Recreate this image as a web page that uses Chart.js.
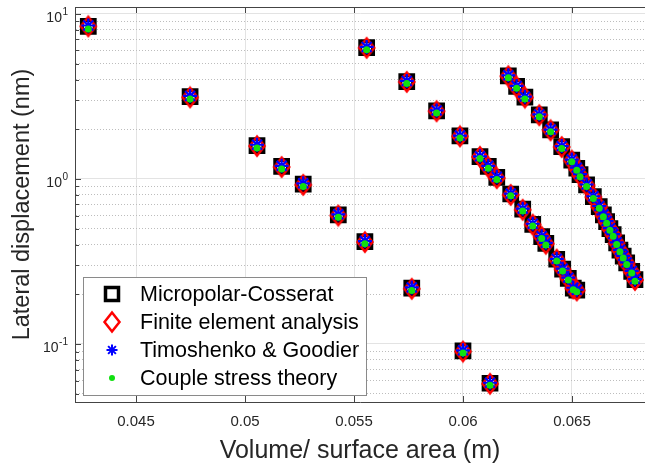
<!DOCTYPE html>
<html>
<head>
<meta charset="utf-8">
<script src="https://cdn.jsdelivr.net/npm/chart.js@4.4.0/dist/chart.umd.min.js"></script>
<style>
  html, body { margin: 0; padding: 0; background: #fff; }
  #wrap { width: 645px; height: 466px; }
</style>
</head>
<body>
<div id="wrap"><canvas id="chart" width="645" height="466"></canvas></div>
<script>
const FONT = "'Liberation Sans', Arial, sans-serif";

// volume / surface area (m)
const xValues = [
  0.04281, 0.04748, 0.05055, 0.05168, 0.05267, 0.05428, 0.05558, 0.05550,
  0.05742, 0.05765, 0.05879, 0.05986, 0.06000, 0.06078, 0.06116, 0.06124,
  0.06155, 0.06208, 0.06219, 0.06246, 0.06274, 0.06284, 0.06320, 0.06350,
  0.06361, 0.06380, 0.06402, 0.06430, 0.06453, 0.06457, 0.06483, 0.06499,
  0.06506, 0.06522, 0.06522, 0.06537, 0.06567, 0.06598, 0.06625, 0.06644,
  0.06659, 0.06674, 0.06689, 0.06705, 0.06720, 0.06735, 0.06751, 0.06774,
  0.06789,
];

// lateral displacement (nm)
const yMicropolar = [
  8.40, 3.15, 1.59, 1.19, 0.93, 0.605, 6.25, 0.417,
  3.89, 0.218, 2.58, 1.82, 0.0908, 1.365, 1.19, 0.0578,
  1.02, 4.21, 0.81, 3.63, 0.655, 3.13, 0.531, 2.44,
  0.447, 0.407, 1.98, 0.326, 1.57, 0.284, 0.250, 1.30,
  0.218, 1.16, 0.212, 1.06, 0.92, 0.78, 0.68, 0.605,
  0.551, 0.50, 0.46, 0.41, 0.37, 0.34, 0.31, 0.275,
  0.245,
];
const yFiniteElement = [
  8.40, 3.12, 1.58, 1.18, 0.92, 0.60, 6.22, 0.414,
  3.87, 0.216, 2.57, 1.81, 0.090, 1.36, 1.18, 0.0574,
  1.01, 4.19, 0.80, 3.61, 0.65, 3.11, 0.528, 2.43,
  0.445, 0.405, 1.97, 0.324, 1.56, 0.283, 0.249, 1.29,
  0.217, 1.15, 0.211, 1.05, 0.915, 0.775, 0.675, 0.60,
  0.548, 0.497, 0.457, 0.408, 0.368, 0.338, 0.308, 0.273,
  0.244,
];
const yTimoshenko = [
  8.50, 3.18, 1.61, 1.20, 0.94, 0.61, 6.30, 0.42,
  3.92, 0.22, 2.60, 1.83, 0.0915, 1.37, 1.20, 0.0582,
  1.03, 4.24, 0.815, 3.66, 0.66, 3.15, 0.535, 2.46,
  0.45, 0.41, 1.99, 0.328, 1.58, 0.286, 0.252, 1.31,
  0.219, 1.17, 0.213, 1.07, 0.925, 0.785, 0.685, 0.61,
  0.555, 0.503, 0.463, 0.413, 0.372, 0.342, 0.312, 0.277,
  0.247,
];
const yCoupleStress = [
  8.10, 3.05, 1.54, 1.15, 0.90, 0.585, 6.05, 0.405,
  3.78, 0.211, 2.51, 1.77, 0.088, 1.33, 1.16, 0.0562,
  0.99, 4.10, 0.79, 3.54, 0.64, 3.05, 0.518, 2.38,
  0.436, 0.397, 1.93, 0.318, 1.53, 0.277, 0.244, 1.27,
  0.213, 1.13, 0.207, 1.03, 0.90, 0.76, 0.665, 0.59,
  0.538, 0.488, 0.45, 0.40, 0.362, 0.332, 0.303, 0.269,
  0.24,
];

const seriesNames = [
  'Micropolar-Cosserat',
  'Finite element analysis',
  'Timoshenko & Goodier',
  'Couple stress theory',
];

const xTickValues = [0.045, 0.05, 0.055, 0.06, 0.065];
const xTickLabels = ['0.045', '0.05', '0.055', '0.06', '0.065'];
const yDecades = [0.1, 1, 10];
const yDecadeExponents = ['-1', '0', '1'];
const yMinorValues = [
  0.05, 0.06, 0.07, 0.08, 0.09,
  0.2, 0.3, 0.4, 0.5, 0.6, 0.7, 0.8, 0.9,
  2, 3, 4, 5, 6, 7, 8, 9,
];

const toPoints = (ys) => xValues.map((x, i) => ({ x, y: ys[i] }));
const isDecade = (v) => yDecades.some((d) => Math.abs(v / d - 1) < 1e-9);

// tall red diamond (matlab 'd' marker looks stretched in the export)
function makeDiamond(w, h, lw, color) {
  const c = document.createElement('canvas');
  c.width = w + lw * 2;
  c.height = h + lw * 2;
  const g = c.getContext('2d');
  const cx = c.width / 2;
  const cy = c.height / 2;
  g.beginPath();
  g.moveTo(cx, cy - h / 2);
  g.lineTo(cx + w / 2, cy);
  g.lineTo(cx, cy + h / 2);
  g.lineTo(cx - w / 2, cy);
  g.closePath();
  g.lineWidth = lw;
  g.strokeStyle = color;
  g.stroke();
  return c;
}
const diamond = makeDiamond(15, 19, 2.5, '#ff0000');

const GREEN = '#10e010';

const frame = {
  id: 'frame',
  afterDraw(chart) {
    const { ctx, chartArea: a, scales } = chart;
    ctx.save();
    ctx.strokeStyle = '#444';
    ctx.lineWidth = 1;
    // top edge of the box
    ctx.beginPath();
    ctx.moveTo(a.left, a.top + 0.5);
    ctx.lineTo(a.right, a.top + 0.5);
    ctx.stroke();
    // inward ticks
    ctx.beginPath();
    xTickValues.forEach((v) => {
      const px = Math.round(scales.x.getPixelForValue(v)) + 0.5;
      ctx.moveTo(px, a.bottom);
      ctx.lineTo(px, a.bottom - 6);
      ctx.moveTo(px, a.top);
      ctx.lineTo(px, a.top + 6);
    });
    yDecades.concat(yMinorValues).forEach((v) => {
      const py = Math.round(scales.y.getPixelForValue(v)) + 0.5;
      ctx.moveTo(a.left, py);
      ctx.lineTo(a.left + (isDecade(v) ? 6 : 4), py);
    });
    ctx.stroke();

    // 10^n tick labels
    ctx.fillStyle = '#262626';
    ctx.textBaseline = 'alphabetic';
    yDecades.forEach((v, i) => {
      const py = scales.y.getPixelForValue(v);
      const exp = yDecadeExponents[i];
      ctx.font = `10px ${FONT}`;
      const ew = ctx.measureText(exp).width;
      const right = 68;
      ctx.textAlign = 'left';
      ctx.fillText(exp, right - ew, py + 1);
      ctx.font = `14px ${FONT}`;
      ctx.textAlign = 'right';
      ctx.fillText('10', right - ew - 0.5, py + 8);
    });

    // legend box
    const box = { x: 83.5, y: 277.5, w: 283, h: 118 };
    ctx.fillStyle = '#fff';
    ctx.fillRect(box.x, box.y, box.w, box.h);
    ctx.strokeStyle = '#8a8a8a';
    ctx.strokeRect(box.x, box.y, box.w, box.h);
    const rows = [294, 322, 350, 378];
    const mx = 112;
    // square
    ctx.strokeStyle = '#000';
    ctx.lineWidth = 3.5;
    ctx.strokeRect(mx - 6.5, rows[0] - 6.5, 13, 13);
    // diamond
    ctx.drawImage(diamond, mx - diamond.width / 2, rows[1] - diamond.height / 2);
    // asterisk
    ctx.strokeStyle = '#0000ff';
    ctx.lineWidth = 2;
    ctx.beginPath();
    for (let k = 0; k < 4; k++) {
      const ang = (k * Math.PI) / 4;
      const dx = Math.cos(ang) * 5.5;
      const dy = Math.sin(ang) * 5.5;
      ctx.moveTo(mx - dx, rows[2] - dy);
      ctx.lineTo(mx + dx, rows[2] + dy);
    }
    ctx.stroke();
    // dot
    ctx.fillStyle = GREEN;
    ctx.beginPath();
    ctx.arc(mx, rows[3], 3, 0, Math.PI * 2);
    ctx.fill();
    // labels
    ctx.fillStyle = '#000';
    ctx.font = `21.5px ${FONT}`;
    ctx.textAlign = 'left';
    ctx.textBaseline = 'middle';
    seriesNames.forEach((name, i) => ctx.fillText(name, 140, rows[i] + 1));
    ctx.restore();
  },
};

const chart = new Chart(document.getElementById('chart'), {
  type: 'scatter',
  data: {
    datasets: [
      {
        label: seriesNames[0],
        data: toPoints(yMicropolar),
        pointStyle: 'rect',
        pointRadius: 9,
        pointBorderWidth: 4,
        pointBorderColor: '#000',
        pointBackgroundColor: 'transparent',
        order: 4,
      },
      {
        label: seriesNames[1],
        data: toPoints(yFiniteElement),
        pointStyle: diamond,
        order: 3,
      },
      {
        label: seriesNames[2],
        data: toPoints(yTimoshenko),
        pointStyle: 'star',
        pointRadius: 7,
        pointBorderWidth: 2.2,
        pointBorderColor: '#0000ff',
        pointBackgroundColor: '#0000ff',
        order: 2,
      },
      {
        label: seriesNames[3],
        data: toPoints(yCoupleStress),
        pointStyle: 'circle',
        pointRadius: 3.5,
        pointBorderWidth: 0,
        pointBackgroundColor: GREEN,
        order: 1,
      },
    ],
  },
  options: {
    responsive: false,
    animation: false,
    events: [],
    layout: {
      autoPadding: false,
      padding: { top: 7, right: 0, bottom: 0, left: 0 },
    },
    plugins: {
      legend: { display: false },
      tooltip: { enabled: false },
    },
    scales: {
      x: {
        type: 'linear',
        min: 0.0422,
        max: 0.06835,
        bounds: 'data',
        afterBuildTicks: (scale) => {
          scale.ticks = xTickValues.map((v) => ({ value: v }));
        },
        afterFit: (scale) => {
          scale.height = 64;
        },
        grid: {
          color: '#e3e3e3',
          drawTicks: false,
        },
        border: { color: '#444', width: 1 },
        ticks: {
          padding: 11,
          color: '#262626',
          font: { family: FONT, size: 15 },
          callback: (v, i) => xTickLabels[i],
        },
        title: {
          display: true,
          text: 'Volume/ surface area (m)',
          color: '#262626',
          font: { family: FONT, size: 25 },
          padding: { top: 0, bottom: 0 },
        },
      },
      y: {
        type: 'logarithmic',
        min: 0.0445,
        max: 11,
        bounds: 'data',
        afterBuildTicks: (scale) => {
          scale.ticks = yDecades
            .concat(yMinorValues)
            .sort((a, b) => a - b)
            .map((v) => ({ value: v }));
        },
        afterFit: (scale) => {
          scale.width = 75;
        },
        grid: {
          drawTicks: false,
          color: (ctx) => (ctx.tick && isDecade(ctx.tick.value) ? '#e3e3e3' : '#bdbdbd'),
        },
        border: {
          color: '#444',
          width: 1,
          dash: (ctx) => (ctx.tick && !isDecade(ctx.tick.value) ? [1, 2] : []),
        },
        ticks: { display: false },
        title: {
          display: true,
          text: 'Lateral displacement (nm)',
          color: '#262626',
          font: { family: FONT, size: 23.5 },
          padding: { top: 8, bottom: 0 },
        },
      },
    },
  },
  plugins: [frame],
});
</script>
</body>
</html>
